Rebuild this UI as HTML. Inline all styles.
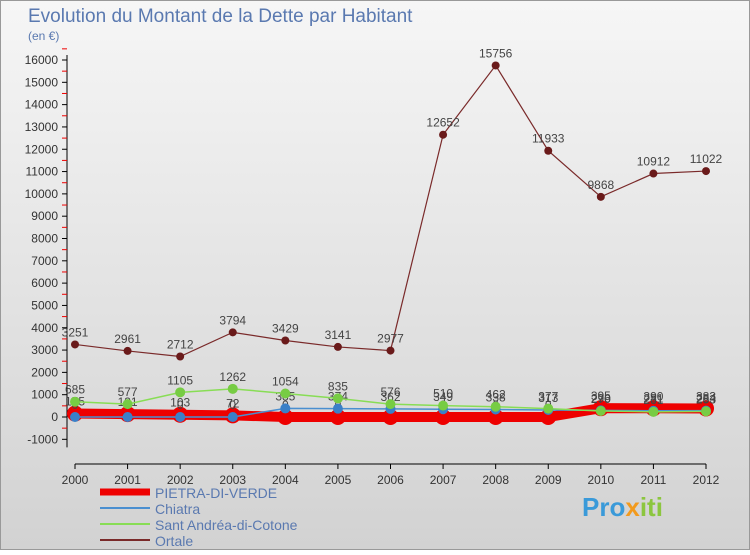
<!DOCTYPE html>
<html><head><meta charset="utf-8"><style>
body{margin:0;width:750px;height:550px;overflow:hidden;font-family:"Liberation Sans",sans-serif}
svg text{font-family:"Liberation Sans",sans-serif}
</style></head><body>
<svg id="c" width="750" height="550">
<defs><linearGradient id="bg" x1="0" y1="0" x2="0" y2="1"><stop offset="0" stop-color="#f6f6f6"/><stop offset="1" stop-color="#d2d2d2"/></linearGradient></defs>
<rect x="0.5" y="0.5" width="749" height="549" fill="url(#bg)" stroke="#999"/>
<text x="28" y="22" font-size="19" fill="#5a79b0">Evolution du Montant de la Dette par Habitant</text>
<text x="28" y="40" font-size="12" fill="#5a79b0">(en €)</text>
<g id="axes"></g><g id="series"></g>
<g>
<line x1="100" y1="492" x2="150" y2="492" stroke="#e00" stroke-width="7"/>
<text x="155" y="498" font-size="14" fill="#5a79b0">PIETRA-DI-VERDE</text>
<line x1="100" y1="508" x2="150" y2="508" stroke="#4a8fd0" stroke-width="2"/>
<text x="155" y="514" font-size="14" fill="#5a79b0">Chiatra</text>
<line x1="100" y1="524" x2="150" y2="524" stroke="#88dd55" stroke-width="2"/>
<text x="155" y="530" font-size="14" fill="#5a79b0">Sant Andréa-di-Cotone</text>
<line x1="100" y1="540" x2="150" y2="540" stroke="#7a2a2a" stroke-width="2"/>
<text x="155" y="546" font-size="14" fill="#5a79b0">Ortale</text>
</g>
<text x="582" y="516" font-size="26" font-weight="bold" fill="#3a9ad9">Pro<tspan fill="#f29a1d">x</tspan><tspan fill="#8cc63f">iti</tspan></text>
</svg>
<script>
const years=[2000,2001,2002,2003,2004,2005,2006,2007,2008,2009,2010,2011,2012];
const pietra=[155,131,103,72,0,0,0,0,0,0,395,390,383];
const chiatra=[0,0,0,0,385,374,362,349,338,313,296,281,284];
const santAndrea=[685,577,1105,1262,1054,835,576,510,462,377,270,231,253];
const ortale=[3251,2961,2712,3794,3429,3141,2977,12652,15756,11933,9868,10912,11022];
const yTicks=[-1000,0,1000,2000,3000,4000,5000,6000,7000,8000,9000,10000,11000,12000,13000,14000,15000,16000];
const NS="http://www.w3.org/2000/svg";
const x=i=>75+i*(706-75)/(years.length-1);
const y=v=>417-v*(417-60)/16000;
function mk(t,a,p){const e=document.createElementNS(NS,t);for(const k in a)e.setAttribute(k,a[k]);p.appendChild(e);return e;}
const ax=document.getElementById('axes'),sg=document.getElementById('series');
mk('line',{x1:67,y1:y(-1000)+8,x2:67,y2:y(16000)-5,stroke:'#000'},ax);
mk('line',{x1:75,y1:464,x2:706,y2:464,stroke:'#000'},ax);
yTicks.forEach(v=>{mk('line',{x1:62,y1:y(v),x2:67,y2:y(v),stroke:'#000'},ax);
 mk('line',{x1:62,y1:y(v+500),x2:67,y2:y(v+500),stroke:'#e00'},ax);
 const t=mk('text',{x:58,y:y(v)+4,'text-anchor':'end','font-size':12,fill:'#333'},ax);
 
 t.textContent=v;});
years.forEach((yr,i)=>{mk('line',{x1:x(i),y1:464,x2:x(i),y2:469,stroke:'#000'},ax);
 const t=mk('text',{x:x(i),y:484,'text-anchor':'middle','font-size':12,fill:'#333'},ax);
 
 t.textContent=yr;});
function series(d,col,w,r,dot,name){
 const pl=mk('polyline',{points:d.map((v,i)=>x(i)+','+y(v)).join(' '),fill:'none',stroke:col,'stroke-width':w},sg);
 
 
 d.forEach((v,i)=>{const c=mk('circle',{cx:x(i),cy:y(v),r:r,fill:dot},sg);
  
  
  const t=mk('text',{x:x(i),y:y(v)-8,'text-anchor':'middle','font-size':12,fill:'#444'},sg);
  
  t.textContent=v;});
}
series(ortale,'#7a2a2a',1.2,4,'#6a1a1a','ortale');
series(pietra,'#e00',10,8,'#e00','pietra');
series(chiatra,'#4a8fd0',1.5,5,'#3a80c8','chiatra');
series(santAndrea,'#88dd55',1.5,5,'#77cc44','sant-andrea');
</script>
</body></html>
